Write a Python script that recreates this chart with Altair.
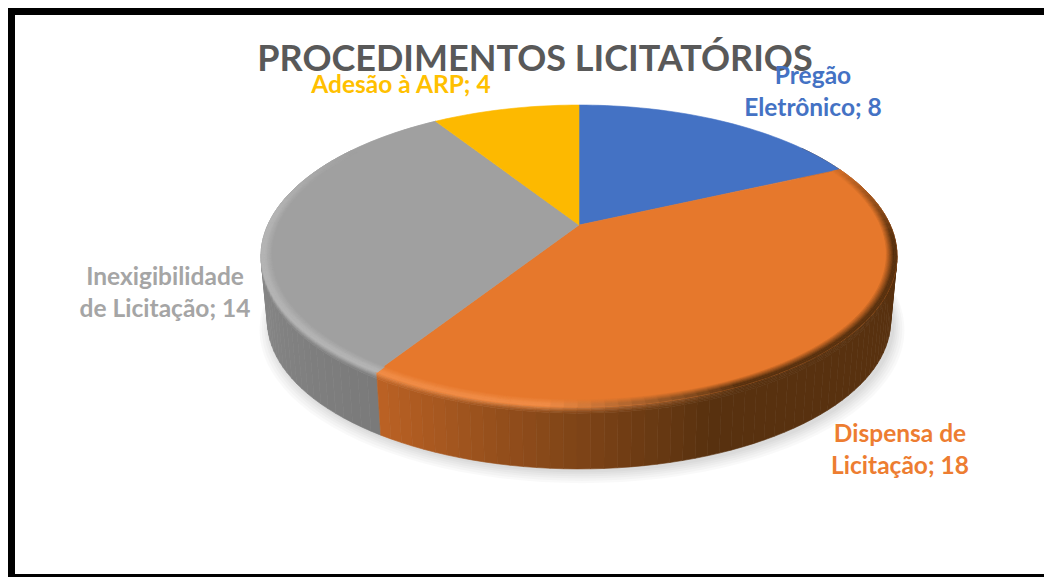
import math
import altair as alt

# --- data
categories = ["Pregão Eletrônico", "Dispensa de Licitação", "Inexigibilidade de Licitação", "Adesão à ARP"]
values = [8, 18, 14, 4]
top_colors = ["#4472C4", "#E6782C", "#A0A0A0", "#FDB900"]
text_colors = ["#4472C4", "#ED7D31", "#A5A5A5", "#FFC000"]
wrapped = ["Pregão\nEletrônico", "Dispensa de\nLicitação", "Inexigibilidade\nde Licitação", "Adesão à ARP"]
title_text = "PROCEDIMENTOS LICITATÓRIOS"

# --- layout
W, H = 1036, 569
CX, CY = 579 - 8, 225 - 8
A, B, K = 311.2, 144.6, 0.2054
DEPTH, SHRINK = 65.6, 0.02
label_pos = [(813, 77), (900, 435), (165, 278), (401, 86)]


def P(theta_deg, r=1.0, t=0.0, grow=1.0, dx=0.0, dy=0.0):
    th = math.radians(theta_deg)
    u, v = r * math.sin(th), r * math.cos(th)
    w = 1 + K * v
    s = (1 - SHRINK * t) * grow
    return [CX + dx + A * u / w * s, CY + dy + B * (-v) / w * s + DEPTH * t]


def poly(points, color):
    ring = list(points) + [points[0]]
    return {"type": "Feature", "properties": {"color": color},
            "geometry": {"type": "Polygon", "coordinates": [ring]}}


def mix(c1, c2, f):
    a = [int(c1[i:i + 2], 16) for i in (1, 3, 5)]
    b = [int(c2[i:i + 2], 16) for i in (1, 3, 5)]
    return "#%02x%02x%02x" % tuple(round(x + (y - x) * f) for x, y in zip(a, b))


# slice boundaries derive from the values
total = sum(values)
bounds = [0.0]
for val in values:
    bounds.append(bounds[-1] + val / total * 360)
start_orange, end_orange = bounds[1], bounds[2]
end_grey = bounds[3]


def steps(a, b, d=2.0):
    n = max(2, int(abs(b - a) / d))
    return [a + (b - a) * i / n for i in range(n + 1)]


def wall_color(th):
    if th <= end_orange:
        f = (end_orange - th) / (end_orange - 160)
        f = min(1.0, max(0.0, f))
        return mix("#BC6224", "#58310F", f)
    f = (th - end_orange) / (300 - end_orange)
    return mix("#7A7A7A", "#949494", min(1.0, f))


def rim_color(th):
    if th <= end_orange:
        side = min(1.0, max(0.0, (th - 155) / 30))
        return mix("#58310F", "#F08C46", side)
    return "#B4B4B4"


# shadow
shadow = []
for g, dy in [(1.035, 8), (1.028, 7), (1.02, 6), (1.014, 5), (1.008, 4), (1.003, 3)]:
    shadow.append(poly([P(a, 1, 1, g, 3, dy) for a in steps(0, 360, 3)], "#000000"))

# side wall, with its upper part blending from the rim colour
wall = []
seq = steps(start_orange - 12, end_grey, 2.0)
for a, b in zip(seq[:-1], seq[1:]):
    mid = (a + b) / 2
    wc = wall_color(mid)
    rim = rim_color(mid)
    key = -math.cos(math.radians(mid))
    wall.append((key, poly([P(a, 1, 0.1), P(b, 1, 0.1), P(b, 1, 1), P(a, 1, 1)], wc)))
    for i in range(4):
        t0, t1 = 0.025 * i, 0.025 * (i + 1)
        wall.append((key, poly([P(a, 1, t0), P(b, 1, t0), P(b, 1, t1), P(a, 1, t1)],
                               mix(rim, wc, (i + 0.5) / 4))))
wall = [p for _, p in sorted(wall, key=lambda q: q[0])]

# top surface
tops = []
for i, col in enumerate(top_colors):
    pts = [P(a) for a in steps(bounds[i], bounds[i + 1], 1.5)]
    tops.append(poly([[CX, CY]] + pts, col))

# bevel along the rim, from the slice colour to the rim colour
bevel = []
seq2 = steps(start_orange, end_grey, 2.0)
for a, b in zip(seq2[:-1], seq2[1:]):
    mid = (a + b) / 2
    if mid > 305:
        continue
    base = top_colors[1] if mid <= end_orange else top_colors[2]
    fade = min(1.0, (305 - mid) / 30, (mid - start_orange) / 35 + 0.15)
    rim = rim_color(mid)
    rings = [(0.968 + 0.004 * i, 0.972 + 0.004 * i, (i + 1) / 6) for i in range(6)] + [(0.992, 1.0, 1.0)]
    for r0, r1, f in rings:
        bevel.append(poly([P(a, r0), P(b, r0), P(b, r1), P(a, r1)], mix(base, rim, f * fade)))

# frame
frame = [
    poly([[0, 0], [W, 0], [W, 7], [0, 7]], "#000000"),
    poly([[0, 0], [7, 0], [7, H], [0, H]], "#000000"),
    poly([[0, H - 3], [W, H - 3], [W, H], [0, H]], "#000000"),
]


def shapes(features, opacity=1.0, stroke=True):
    enc = {"fill": alt.Fill("properties.color:N", scale=None)}
    if stroke:
        enc["stroke"] = alt.Stroke("properties.color:N", scale=None)
    return (
        alt.Chart(alt.InlineData(values=features, format=alt.DataFormat(type="json")))
        .mark_geoshape(opacity=opacity, strokeWidth=0.6 if stroke else 0)
        .encode(**enc)
        .project(type="identity", scale=1, translate=[0, 0])
    )


layers = [
    shapes(shadow, 0.022, False),
    shapes(wall),
    shapes(tops),
    shapes(bevel),
    shapes(frame, 1.0, False),
    alt.Chart(alt.Data(values=[{"t": title_text}])).mark_text(
        font="Lato", fontWeight="bold", fontSize=36, color="#595959", align="center", baseline="middle"
    ).encode(x=alt.value(535 - 8), y=alt.value(60 - 8), text="t:N"),
]
for name, val, col, (lx, ly) in zip(wrapped, values, text_colors, label_pos):
    layers.append(
        alt.Chart(alt.Data(values=[{"t": f"{name}; {val}"}])).mark_text(
            font="Lato", fontWeight="bold", fontSize=24.5, color=col, align="center", baseline="middle",
            lineBreak="\n", lineHeight=32,
        ).encode(x=alt.value(lx - 8), y=alt.value(ly - 8), text="t:N")
    )

chart = alt.layer(*layers).properties(
    width=W, height=H, padding=0, autosize=alt.AutoSizeParams(type="none"), background="white"
).configure_view(stroke=None)

chart.save("out.html", embed_options={"renderer": "svg", "actions": False})
